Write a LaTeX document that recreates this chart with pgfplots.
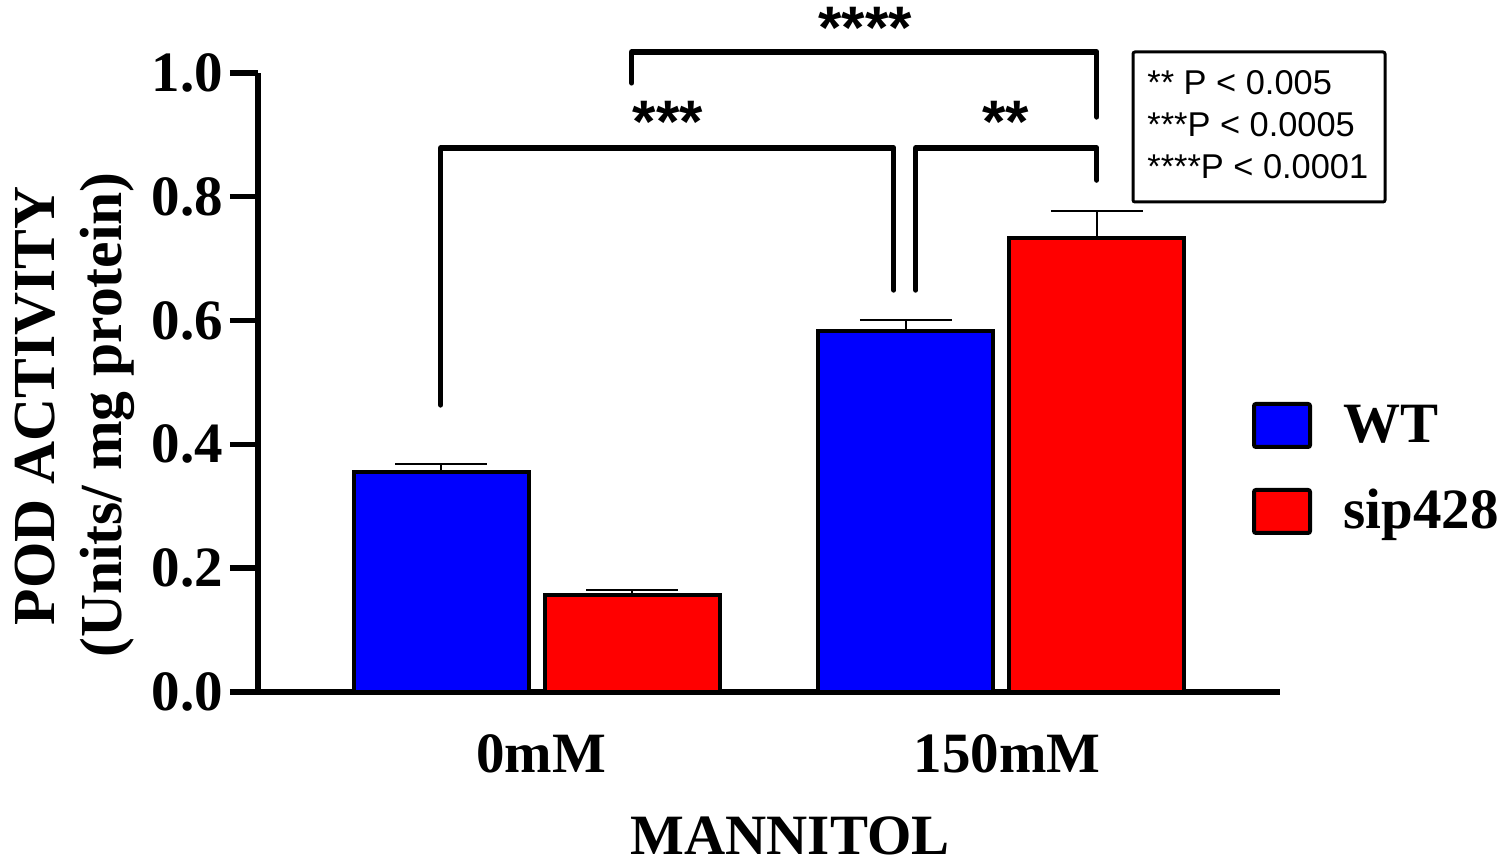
\documentclass[border=0pt]{standalone}
\usepackage{pgfplots}
\pgfplotsset{compat=1.18}
\usepackage{fontspec}
\setmainfont{Liberation Serif}
\newfontfamily\arialfont{Liberation Sans}
\definecolor{wtblue}{RGB}{0,0,255}
\definecolor{sipred}{RGB}{255,0,0}
\newcommand\bigfont{\fontsize{28.5}{34}\selectfont\bfseries}
\begin{document}
\begin{tikzpicture}
\useasboundingbox (-129pt,-87pt) rectangle (624pt,346pt);
\begin{axis}[
 at={(0,0)}, anchor=south west,
 scale only axis, width=511pt, height=309.5pt,
 xmin=-0.6, xmax=1.6, ymin=0, ymax=1,
 axis x line=bottom, axis y line=left,
 axis line style={-, line width=3pt, black},
 xtick=\empty,
 ytick={0,0.2,0.4,0.6,0.8,1.0},
 tick align=outside, major tick length=14pt,
 ytick style={line width=2.7pt, black},
 yticklabel style={font=\bigfont, /pgf/number format/.cd, fixed, fixed zerofill, precision=1, assume math mode=true},
 clip=false,
]
% WT bars (0mM at -0.2056, 150mM at 0.7944)
\addplot[ybar, bar width=0.377, bar shift=0pt, fill=wtblue, draw=black, line width=2pt,
  error bars/.cd, y dir=plus, y explicit,
  error bar style={line width=0.8pt, black},
  error mark options={rotate=90, mark size=23pt, line width=0.8pt, black}]
 coordinates {(-0.2056,0.355) +- (0,0.013) (0.7944,0.583) +- (0,0.018)};
% sip428 bars (0mM at 0.2056, 150mM at 1.2056)
\addplot[ybar, bar width=0.377, bar shift=0pt, fill=sipred, draw=black, line width=2pt,
  error bars/.cd, y dir=plus, y explicit,
  error bar style={line width=0.8pt, black},
  error mark options={rotate=90, mark size=23pt, line width=0.8pt, black}]
 coordinates {(0.2056,0.157) +- (0,0.008) (1.2056,0.733) +- (0,0.044)};
% significance brackets
\draw[line width=2.7pt, line join=round, line cap=round] (axis cs:-0.2067,0.4637) |- (axis cs:0.7686,0.879) -- (axis cs:0.7686,0.6494);
\draw[line width=2.7pt, line join=round, line cap=round] (axis cs:0.8159,0.6494) |- (axis cs:1.2056,0.879) -- (axis cs:1.2056,0.827);
\draw[line width=2.7pt, line join=round, line cap=round] (axis cs:0.2045,0.984) |- (axis cs:1.2056,1.034) -- (axis cs:1.2056,0.929);
\node[anchor=base, inner sep=0, font={\arialfont\bfseries\fontsize{30}{36}\selectfont}] at (axis cs:0.707,1.040) {****};
\node[anchor=base, inner sep=0, font={\arialfont\bfseries\fontsize{30}{36}\selectfont}] at (axis cs:0.282,0.887) {***};
\node[anchor=base, inner sep=0, font={\arialfont\bfseries\fontsize{30}{36}\selectfont}] at (axis cs:1.0097,0.887) {**};
\end{axis}
% stats box
\draw[line width=1.5pt, rounded corners=1pt] (437.5pt,245pt) rectangle (563.5pt,320pt);
\begin{scope}[every node/.style={anchor=base west, inner sep=0, font={\arialfont\fontsize{17.2}{21}\selectfont}}]
\node at (444.5pt,298.5pt) {** P < 0.005};
\node at (444.5pt,277.5pt) {***P < 0.0005};
\node at (444.5pt,256.5pt) {****P < 0.0001};
\end{scope}
% legend
\filldraw[fill=wtblue, draw=black, line width=2pt, rounded corners=1pt] (498pt,122.5pt) rectangle (526pt,144pt);
\filldraw[fill=sipred, draw=black, line width=2pt, rounded corners=1pt] (498pt,79.5pt) rectangle (526pt,101pt);
\begin{scope}[every node/.style={inner sep=0, font=\bigfont}]
\node[anchor=base west] at (542.5pt,124.5pt) {WT};
\node[anchor=base west] at (542.5pt,81.5pt) {sip428};
% x tick labels and label
\node[anchor=base] at (141.5pt,-40.5pt) {0mM};
\node[anchor=base] at (374.5pt,-40.5pt) {150mM};
\node[anchor=base] at (266pt,-81.5pt) {MANNITOL};
% y label
\node[rotate=90, anchor=base, font={\fontsize{29.8}{34}\selectfont\bfseries}] at (-101.5pt,143pt) {POD ACTIVITY};
\node[rotate=90, anchor=base, font={\fontsize{29.8}{34}\selectfont\bfseries}] at (-68pt,138.5pt) {(Units/ mg protein)};
\end{scope}
\end{tikzpicture}
\end{document}
